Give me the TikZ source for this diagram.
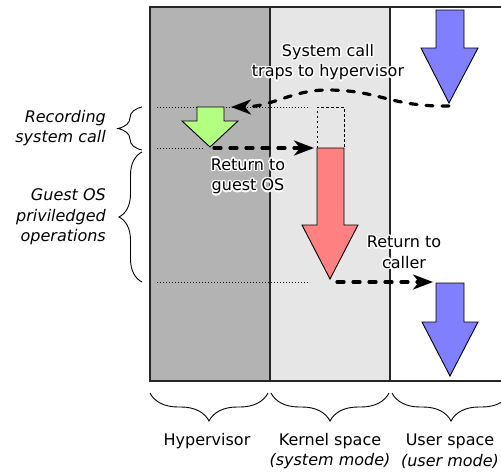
\documentclass[tikz,border=0pt]{standalone}
\usepackage{fontspec}
\setmainfont{DejaVu Sans}
\usepackage{contour}
\contourlength{1.4pt}
\usetikzlibrary{arrows.meta,decorations.pathreplacing}
\definecolor{hypgray}{HTML}{B3B3B3}
\definecolor{kergray}{HTML}{E6E6E6}
\definecolor{bluearr}{HTML}{8080FF}
\definecolor{redarr}{HTML}{FF8080}
\definecolor{greenarr}{HTML}{B3FF80}
\begin{document}
\begin{tikzpicture}[x=1pt,y=-1pt,
  lbl/.style={font=\fontsize{16}{20.5}\selectfont, align=center, inner sep=0pt},
  sidelbl/.style={font=\fontsize{16}{20.5}\selectfont\itshape, align=right, inner sep=0pt, anchor=east},
  dashline/.style={line width=3.2pt, line cap=round, dash pattern=on 7pt off 9pt, -{Stealth[length=20pt,width=15pt,inset=6pt,line cap=butt]}},
  bigarrow/.style={draw=black, line width=0.9pt, line join=miter},
  dotline/.style={line width=0.7pt, dash pattern=on 1pt off 2pt},
  boxdot/.style={line width=0.8pt, dash pattern=on 2.5pt off 2.5pt},
  frameline/.style={line width=1.4pt, black!85},
  bracestyle/.style={decorate, line width=0.9pt}]
\useasboundingbox (0,0) rectangle (501,474);
% columns
\fill[hypgray] (150,7) rectangle (270,381);
\fill[kergray] (270,7) rectangle (390,381);
\draw[frameline] (501,7) -- (150,7) -- (150,381) -- (501,381);
\draw[frameline] (270,7) -- (270,381);
\draw[frameline] (390,7) -- (390,381);
% dotted guide lines
\draw[dotline] (157,107) -- (310,107);
\draw[dotline] (157,148) -- (204,148);
\draw[dotline] (157,282) -- (310,282);
% dotted box above red arrow
\draw[boxdot] (317,148) -- (317,107) -- (344,107) -- (344,148);
% arrows
\draw[bigarrow, fill=bluearr] (436,10) -- (464,10) -- (464,48) -- (478,48) -- (449,103) -- (421,48) -- (436,48) -- cycle;
\draw[bigarrow, fill=bluearr] (436,283) -- (464,283) -- (464,322) -- (478,322) -- (450,376) -- (422,322) -- (436,322) -- cycle;
\draw[bigarrow, fill=redarr] (317,148) -- (344,148) -- (344,225) -- (358,225) -- (330,279) -- (302,225) -- (317,225) -- cycle;
\draw[bigarrow, fill=greenarr] (197,107) -- (224,107) -- (224,121) -- (238,121) -- (210,147) -- (182,121) -- (197,121) -- cycle;
% connector endpoints
\coordinate (blueTip) at (449,106);
\coordinate (trapEnd) at (231,107);
\coordinate (greenTip) at (214,148);
\coordinate (redTop) at (314,148);
\coordinate (redTip) at (337,282);
\coordinate (blueTop) at (433,282);
\draw[dashline] (blueTip) .. controls (390,107) and (380,90) .. (327,90) .. controls (292,90) and (272,107) .. (trapEnd);
\draw[dashline] (greenTip) -- (redTop);
\draw[dashline] (redTip) -- (blueTop);
% labels on the diagram
\node[lbl] (sys) at (328,63) {\contour{white}{System call}\\\contour{white}{traps to hypervisor}};
\node[lbl] (retg) at (248,177) {\contour{white}{Return to}\\\contour{white}{guest OS}};
\node[lbl] (retc) at (404,253) {\contour{white}{Return to}\\\contour{white}{caller}};
% left side labels and braces
\node[sidelbl] (rec) at (106,128) {Recording\\system call};
\node[sidelbl] (gos) at (106,217) {Guest OS\\priviledged\\operations};
\draw[bracestyle, decoration={brace, amplitude=24pt}] (142,150) -- (142,107);
\draw[bracestyle, decoration={brace, amplitude=23pt}] (142,282) -- (142,152);
% bottom braces and labels
\draw[bracestyle, decoration={brace, amplitude=28pt}] (268,393) -- (150,393);
\draw[bracestyle, decoration={brace, amplitude=28pt}] (389,393) -- (271,393);
\draw[bracestyle, decoration={brace, amplitude=28pt}] (510,393) -- (392,393);
\node[lbl] (hyp) at (207,441) {Hypervisor};
\node[lbl] (ker) at (330,451) {Kernel space\\\textit{(system mode)}};
\node[lbl] (usr) at (450,451) {User space\\\textit{(user mode)}};
\end{tikzpicture}
\end{document}
